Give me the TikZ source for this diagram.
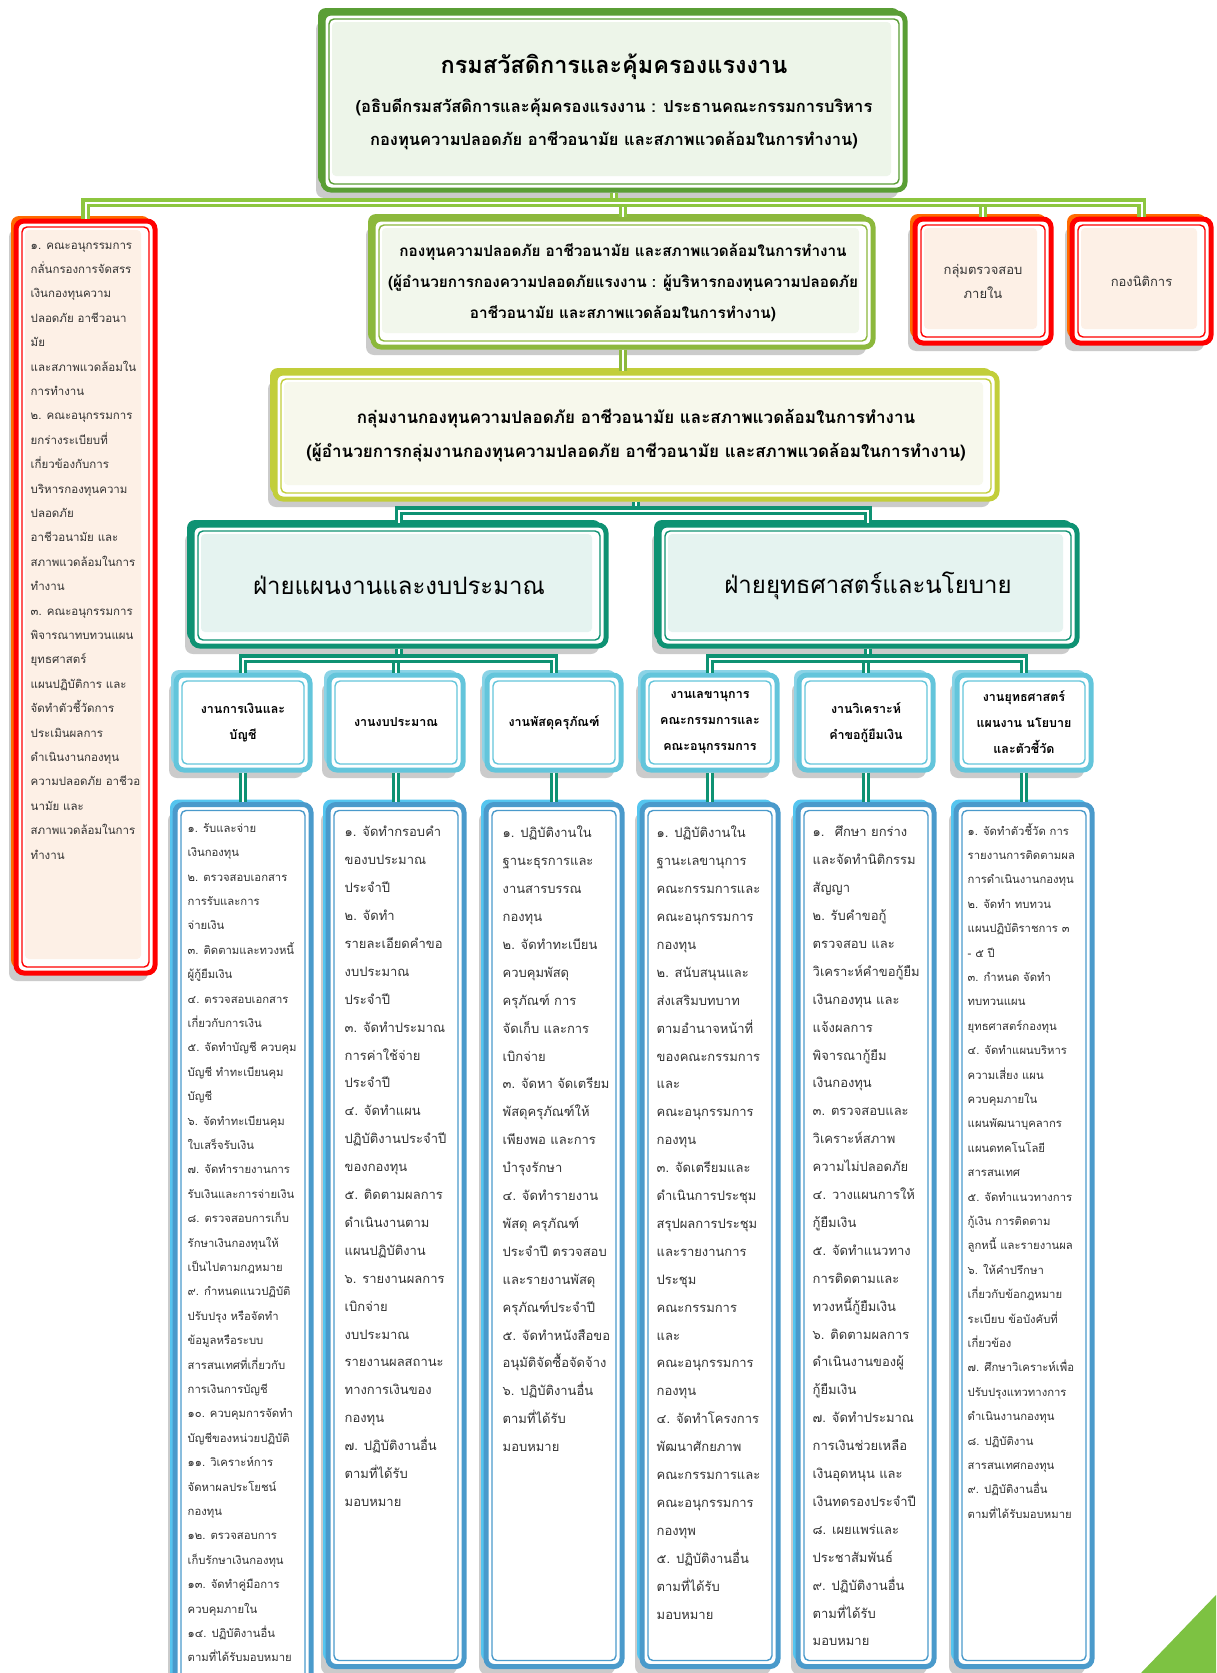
\documentclass[tikz,border=0pt]{standalone}
\usepackage{fontspec}
\setmainfont[Script=Thai]{Loma}
\usetikzlibrary{shadows,calc}
\definecolor{TopGreen}{HTML}{5A9E35}
\definecolor{TopLight}{HTML}{EDF5E9}
\definecolor{FundGreen}{HTML}{8CB83C}
\definecolor{FundLight}{HTML}{F2F7EC}
\definecolor{GroupLime}{HTML}{C2CE3A}
\definecolor{GroupLight}{HTML}{F7F8EC}
\definecolor{BusGreen}{HTML}{8DC63F}
\definecolor{AlertRed}{HTML}{FF0000}
\definecolor{AlertBack}{HTML}{FF6A00}
\definecolor{PeachLight}{HTML}{FDF0E6}
\definecolor{Teal}{HTML}{0E9273}
\definecolor{TealLight}{HTML}{E5F3F0}
\definecolor{UnitBlue}{HTML}{63C5DB}
\definecolor{UnitBack}{HTML}{8AD3E6}
\definecolor{ListBlue}{HTML}{4A9ACB}
\definecolor{ListBack}{HTML}{55C5EF}
\definecolor{Txt}{HTML}{333333}
\definecolor{Leaf}{HTML}{7DC242}
\tikzset{
  framebox/.style n args={3}{rounded corners=8pt, draw=#1, line width=5pt, fill=white,
    drop shadow={shadow xshift=-7pt, shadow yshift=-8pt, fill=black!45, opacity=.45},
    general shadow={shadow xshift=-5pt, shadow yshift=5pt, fill=#3},
    path picture={
      \fill[#2, rounded corners=4pt] ([shift={(9pt,-9pt)}]path picture bounding box.north west)
        rectangle ([shift={(-14pt,14pt)}]path picture bounding box.south east);
      \draw[#1, line width=1.4pt, rounded corners=5pt] ([shift={(6pt,-6pt)}]path picture bounding box.north west)
        rectangle ([shift={(-6pt,6pt)}]path picture bounding box.south east);
    }},
  listtxt/.style={anchor=north west, align=left, inner sep=0pt, text=Txt},
  bigfont/.style={font=\fontsize{11.3}{24.4}\selectfont},
  midfont/.style={font=\fontsize{13}{27.9}\selectfont},
  unitbox/.style={framebox={UnitBlue}{white}{UnitBack}, minimum width=134pt, minimum height=95pt,
    align=center, text=black, font=\bfseries\fontsize{12.5}{26}\selectfont},
  listbox/.style={framebox={ListBlue}{white}{ListBack}, minimum width=136pt},
  link/.style={draw=#1, line width=3.2pt, double=white, double distance=2pt},
}
\begin{document}
\begin{tikzpicture}[x=1pt,y=-1pt]
\path[use as bounding box, fill=white] (0,0) rectangle (1216,1673);
\fill[Leaf] (1141,1673) -- (1216,1673) -- (1216,1595) -- cycle;

% top level
\node[framebox={TopGreen}{TopLight}{TopGreen}, minimum width=582pt, minimum height=177pt,
  align=center, font=\bfseries\fontsize{16.5}{33}\selectfont] (top) at (614,101.5)
  {{\fontsize{23.5}{30}\selectfont กรมสวัสดิการและคุ้มครองแรงงาน}\\[6pt]
   (อธิบดีกรมสวัสดิการและคุ้มครองแรงงาน : ประธานคณะกรรมการบริหาร\\
   กองทุนความปลอดภัย อาชีวอนามัย และสภาพแวดล้อมในการทำงาน)};

% second row
\node[framebox={AlertRed}{PeachLight}{AlertBack}, minimum width=139pt, minimum height=752pt] (lbox) at (85.5,597) {};
\node[listtxt, font=\fontsize{11.5}{24.4}\selectfont] (ltxt) at ([shift={(17pt,-24pt)}]lbox.north west)
  {๑. คณะอนุกรรมการ\\ กลั่นกรองการจัดสรร\\ เงินกองทุนความ\\ ปลอดภัย อาชีวอนา\\ มัย\\
   และสภาพแวดล้อมใน\\ การทำงาน\\ ๒. คณะอนุกรรมการ\\ ยกร่างระเบียบที่\\ เกี่ยวข้องกับการ\\
   บริหารกองทุนความ\\ ปลอดภัย\\ อาชีวอนามัย และ\\ สภาพแวดล้อมในการ\\ ทำงาน\\
   ๓. คณะอนุกรรมการ\\ พิจารณาทบทวนแผน\\ ยุทธศาสตร์\\ แผนปฏิบัติการ และ\\ จัดทำตัวชี้วัดการ\\
   ประเมินผลการ\\ ดำเนินงานกองทุน\\ ความปลอดภัย อาชีวอ\\ นามัย และ\\ สภาพแวดล้อมในการ\\ ทำงาน};
\node[framebox={FundGreen}{FundLight}{FundGreen}, minimum width=500pt, minimum height=128pt,
  align=center, font=\bfseries\fontsize{15.3}{31}\selectfont] (fund) at (623,283)
  {กองทุนความปลอดภัย อาชีวอนามัย และสภาพแวดล้อมในการทำงาน\\
   (ผู้อำนวยการกองความปลอดภัยแรงงาน : ผู้บริหารกองทุนความปลอดภัย\\
   อาชีวอนามัย และสภาพแวดล้อมในการทำงาน)};
\node[framebox={AlertRed}{PeachLight}{AlertBack}, minimum width=136pt, minimum height=124pt,
  align=center, text=Txt, font=\fontsize{13}{24}\selectfont] (audit) at (983,281) {กลุ่มตรวจสอบ\\ภายใน};
\node[framebox={AlertRed}{PeachLight}{AlertBack}, minimum width=139pt, minimum height=124pt,
  text=Txt, font=\fontsize{13}{24}\selectfont] (legal) at (1141.5,281) {กองนิติการ};

% group
\node[framebox={GroupLime}{GroupLight}{GroupLime}, minimum width=722pt, minimum height=126pt,
  align=center, font=\bfseries\fontsize{17}{34}\selectfont] (group) at (636,436)
  {กลุ่มงานกองทุนความปลอดภัย อาชีวอนามัย และสภาพแวดล้อมในการทำงาน\\
   (ผู้อำนวยการกลุ่มงานกองทุนความปลอดภัย อาชีวอนามัย และสภาพแวดล้อมในการทำงาน)};

% sections
\node[framebox={Teal}{TealLight}{Teal}, minimum width=414pt, minimum height=121pt,
  font=\fontsize{24}{28}\selectfont] (sec1) at (399,585.5) {ฝ่ายแผนงานและงบประมาณ};
\node[framebox={Teal}{TealLight}{Teal}, minimum width=418pt, minimum height=121pt,
  font=\fontsize{24}{28}\selectfont] (sec2) at (868,585.5) {ฝ่ายยุทธศาสตร์และนโยบาย};

% units
\node[unitbox] (u1) at (243,722.5) {งานการเงินและ\\บัญชี};
\node[unitbox] (u2) at (396,722.5) {งานงบประมาณ};
\node[unitbox] (u3) at (554,722.5) {งานพัสดุครุภัณฑ์};
\node[unitbox] (u4) at (710,722.5) {งานเลขานุการ\\คณะกรรมการและ\\คณะอนุกรรมการ};
\node[unitbox] (u5) at (866,722.5) {งานวิเคราะห์\\คำขอกู้ยืมเงิน};
\node[unitbox] (u6) at (1024,722.5) {งานยุทธศาสตร์\\แผนงาน นโยบาย\\และตัวชี้วัด};

% duty lists
\node[listbox, minimum height=888pt, anchor=north] (l1) at (243,802) {};
\node[listbox, minimum height=862pt, anchor=north] (l2) at (396,802) {};
\node[listbox, minimum height=862pt, anchor=north] (l3) at (554,802) {};
\node[listbox, minimum height=862pt, anchor=north] (l4) at (710,802) {};
\node[listbox, minimum height=862pt, anchor=north] (l5) at (866,802) {};
\node[listbox, minimum height=862pt, anchor=north] (l6) at (1024,802) {};

\node[listtxt, bigfont] (t1) at ([shift={(15pt,-21pt)}]l1.north west)
  {๑. รับและจ่าย\\ เงินกองทุน\\ ๒. ตรวจสอบเอกสาร\\ การรับและการ\\ จ่ายเงิน\\
   ๓. ติดตามและทวงหนี้\\ ผู้กู้ยืมเงิน\\ ๔. ตรวจสอบเอกสาร\\ เกี่ยวกับการเงิน\\
   ๕. จัดทำบัญชี ควบคุม\\ บัญชี ทำทะเบียนคุม\\ บัญชี\\ ๖. จัดทำทะเบียนคุม\\ ใบเสร็จรับเงิน\\
   ๗. จัดทำรายงานการ\\ รับเงินและการจ่ายเงิน\\ ๘. ตรวจสอบการเก็บ\\ รักษาเงินกองทุนให้\\
   เป็นไปตามกฎหมาย\\ ๙. กำหนดแนวปฏิบัติ\\ ปรับปรุง หรือจัดทำ\\ ข้อมูลหรือระบบ\\
   สารสนเทศที่เกี่ยวกับ\\ การเงินการบัญชี\\ ๑๐. ควบคุมการจัดทำ\\ บัญชีของหน่วยปฏิบัติ\\
   ๑๑. วิเคราะห์การ\\ จัดหาผลประโยชน์\\ กองทุน\\ ๑๒. ตรวจสอบการ\\ เก็บรักษาเงินกองทุน\\
   ๑๓. จัดทำคู่มือการ\\ ควบคุมภายใน\\ ๑๔. ปฏิบัติงานอื่น\\ ตามที่ได้รับมอบหมาย};
\node[listtxt, midfont] (t2) at ([shift={(19pt,-24pt)}]l2.north west)
  {๑. จัดทำกรอบคำ\\ ของบประมาณ\\ ประจำปี\\ ๒. จัดทำ\\ รายละเอียดคำขอ\\ งบประมาณ\\ ประจำปี\\
   ๓. จัดทำประมาณ\\ การค่าใช้จ่าย\\ ประจำปี\\ ๔. จัดทำแผน\\ ปฏิบัติงานประจำปี\\ ของกองทุน\\
   ๕. ติดตามผลการ\\ ดำเนินงานตาม\\ แผนปฏิบัติงาน\\ ๖. รายงานผลการ\\ เบิกจ่าย\\ งบประมาณ\\
   รายงานผลสถานะ\\ ทางการเงินของ\\ กองทุน\\ ๗. ปฏิบัติงานอื่น\\ ตามที่ได้รับ\\ มอบหมาย};
\node[listtxt, midfont] (t3) at ([shift={(19pt,-24pt)}]l3.north west)
  {๑. ปฏิบัติงานใน\\ ฐานะธุรการและ\\ งานสารบรรณ\\ กองทุน\\ ๒. จัดทำทะเบียน\\ ควบคุมพัสดุ\\
   ครุภัณฑ์ การ\\ จัดเก็บ และการ\\ เบิกจ่าย\\ ๓. จัดหา จัดเตรียม\\ พัสดุครุภัณฑ์ให้\\
   เพียงพอ และการ\\ บำรุงรักษา\\ ๔. จัดทำรายงาน\\ พัสดุ ครุภัณฑ์\\ ประจำปี ตรวจสอบ\\
   และรายงานพัสดุ\\ ครุภัณฑ์ประจำปี\\ ๕. จัดทำหนังสือขอ\\ อนุมัติจัดซื้อจัดจ้าง\\
   ๖. ปฏิบัติงานอื่น\\ ตามที่ได้รับ\\ มอบหมาย};
\node[listtxt, midfont] (t4) at ([shift={(17pt,-24pt)}]l4.north west)
  {๑. ปฏิบัติงานใน\\ ฐานะเลขานุการ\\ คณะกรรมการและ\\ คณะอนุกรรมการ\\ กองทุน\\
   ๒. สนับสนุนและ\\ ส่งเสริมบทบาท\\ ตามอำนาจหน้าที่\\ ของคณะกรรมการ\\ และ\\
   คณะอนุกรรมการ\\ กองทุน\\ ๓. จัดเตรียมและ\\ ดำเนินการประชุม\\ สรุปผลการประชุม\\
   และรายงานการ\\ ประชุม\\ คณะกรรมการ\\ และ\\ คณะอนุกรรมการ\\ กองทุน\\
   ๔. จัดทำโครงการ\\ พัฒนาศักยภาพ\\ คณะกรรมการและ\\ คณะอนุกรรมการ\\ กองทุพ\\
   ๕. ปฏิบัติงานอื่น\\ ตามที่ได้รับ\\ มอบหมาย};
\node[listtxt, midfont] (t5) at ([shift={(17pt,-24pt)}]l5.north west)
  {๑.~ ศึกษา ยกร่าง\\ และจัดทำนิติกรรม\\ สัญญา\\ ๒. รับคำขอกู้\\ ตรวจสอบ และ\\
   วิเคราะห์คำขอกู้ยืม\\ เงินกองทุน และ\\ แจ้งผลการ\\ พิจารณากู้ยืม\\ เงินกองทุน\\
   ๓. ตรวจสอบและ\\ วิเคราะห์สภาพ\\ ความไม่ปลอดภัย\\ ๔. วางแผนการให้\\ กู้ยืมเงิน\\
   ๕. จัดทำแนวทาง\\ การติดตามและ\\ ทวงหนี้กู้ยืมเงิน\\ ๖. ติดตามผลการ\\ ดำเนินงานของผู้\\
   กู้ยืมเงิน\\ ๗. จัดทำประมาณ\\ การเงินช่วยเหลือ\\ เงินอุดหนุน และ\\ เงินทดรองประจำปี\\
   ๘. เผยแพร่และ\\ ประชาสัมพันธ์\\ ๙. ปฏิบัติงานอื่น\\ ตามที่ได้รับ\\ มอบหมาย};
\node[listtxt, bigfont] (t6) at ([shift={(14pt,-21pt)}]l6.north west)
  {๑. จัดทำตัวชี้วัด การ\\ รายงานการติดตามผล\\ การดำเนินงานกองทุน\\ ๒. จัดทำ ทบทวน\\
   แผนปฏิบัติราชการ ๓\\ - ๕ ปี\\ ๓. กำหนด จัดทำ\\ ทบทวนแผน\\ ยุทธศาสตร์กองทุน\\
   ๔. จัดทำแผนบริหาร\\ ความเสี่ยง แผน\\ ควบคุมภายใน\\ แผนพัฒนาบุคลากร\\ แผนดทคโนโลยี\\
   สารสนเทศ\\ ๕. จัดทำแนวทางการ\\ กู้เงิน การติดตาม\\ ลูกหนี้ และรายงานผล\\ ๖. ให้คำปรึกษา\\
   เกี่ยวกับข้อกฎหมาย\\ ระเบียบ ข้อบังคับที่\\ เกี่ยวข้อง\\ ๗. ศึกษาวิเคราะห์เพื่อ\\
   ปรับปรุงแทวทางการ\\ ดำเนินงานกองทุน\\ ๘. ปฏิบัติงาน\\ สารสนเทศกองทุน\\
   ๙. ปฏิบัติงานอื่น\\ ตามที่ได้รับมอบหมาย};

% connectors
\draw[link=BusGreen] (top.south) -- ++(0,10) coordinate (busA);
\draw[link=BusGreen] (fund.north) -- (fund.north |- busA);
\draw[link=BusGreen] (audit.north) -- (audit.north |- busA);
\draw[link=BusGreen] (lbox.north) -- (lbox.north |- busA) -- (legal.north |- busA) -- (legal.north);
\draw[link=FundGreen] (fund.south) -- (fund.south |- group.north);
\draw[link=Teal] (group.south) -- ++(0,9) coordinate (busB);
\draw[link=Teal] (sec1.north) -- (sec1.north |- busB) -- (sec2.north |- busB) -- (sec2.north);
\draw[link=Teal] (sec1.south) -- ++(0,10) coordinate (busC);
\draw[link=Teal] (u2.north) -- (u2.north |- busC);
\draw[link=Teal] (u1.north) -- (u1.north |- busC) -- (u3.north |- busC) -- (u3.north);
\draw[link=Teal] (sec2.south) -- ++(0,10) coordinate (busD);
\draw[link=Teal] (u5.north) -- (u5.north |- busD);
\draw[link=Teal] (u4.north) -- (u4.north |- busD) -- (u6.north |- busD) -- (u6.north);
\foreach \i in {1,...,6}
  \draw[link=Teal] (u\i.south) -- (l\i.north);
\end{tikzpicture}
\end{document}
